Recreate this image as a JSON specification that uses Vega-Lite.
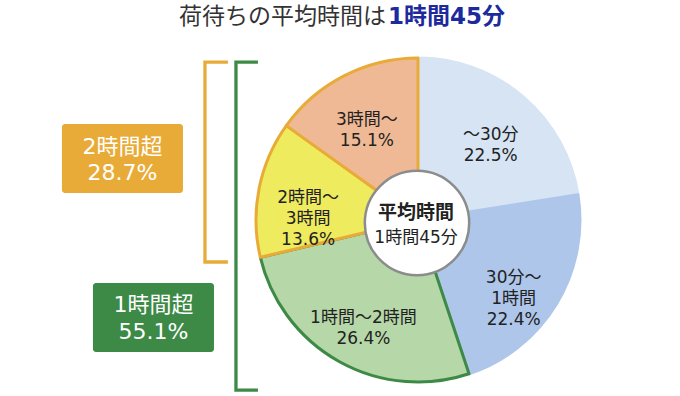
{
  "$schema": "https://vega.github.io/schema/vega-lite/v6.json",
  "width": 328,
  "height": 328,
  "autosize": {"type": "none"},
  "padding": {"left": 254, "top": 56, "right": 98, "bottom": 12},
  "background": "white",
  "config": {"view": {"stroke": null}, "font": "DejaVu Sans, Noto Sans CJK JP"},
  "resolve": {"scale": {"color": "independent", "stroke": "independent"}},
  "datasets": {
    "pie": [
      {"idx": 1, "cat": "～30分", "pct": 22.5, "label": "～30分\n22.5%"},
      {"idx": 2, "cat": "30分～1時間", "pct": 22.4, "label": "30分～\n1時間\n22.4%"},
      {"idx": 3, "cat": "1時間～2時間", "pct": 26.4, "label": "1時間～2時間\n26.4%"},
      {"idx": 4, "cat": "2時間～3時間", "pct": 13.6, "label": "2時間～\n3時間\n13.6%"},
      {"idx": 5, "cat": "3時間～", "pct": 15.1, "label": "3時間～\n15.1%"}
    ],
    "brackets": [
      {"b": "2時間超", "i": 1, "x": -1.159, "y": 0.963},
      {"b": "2時間超", "i": 2, "x": -1.299, "y": 0.963},
      {"b": "2時間超", "i": 3, "x": -1.299, "y": -0.256},
      {"b": "2時間超", "i": 4, "x": -1.159, "y": -0.256},
      {"b": "1時間超", "i": 1, "x": -0.976, "y": 0.963},
      {"b": "1時間超", "i": 2, "x": -1.110, "y": 0.963},
      {"b": "1時間超", "i": 3, "x": -1.110, "y": -1.037},
      {"b": "1時間超", "i": 4, "x": -0.976, "y": -1.037}
    ],
    "boxes": [
      {"b": "2時間超", "x": -2.171, "x2": -1.433, "y": 0.585, "y2": 0.165},
      {"b": "1時間超", "x": -1.982, "x2": -1.244, "y": -0.384, "y2": -0.805}
    ]
  },
  "layer": [
    {
      "data": {"name": "pie"},
      "mark": {"type": "arc", "outerRadius": 162, "strokeWidth": 3, "strokeJoin": "round"},
      "encoding": {
        "theta": {"field": "pct", "type": "quantitative", "stack": true},
        "order": {"field": "idx", "type": "quantitative"},
        "color": {"field": "cat", "type": "nominal", "legend": null,
          "scale": {"domain": ["～30分", "30分～1時間", "1時間～2時間", "2時間～3時間", "3時間～"],
                    "range": ["#d6e4f4", "#aec6ea", "#b6d7a8", "#efeb5e", "#f0b996"]}},
        "stroke": {"field": "cat", "type": "nominal", "legend": null,
          "scale": {"domain": ["～30分", "30分～1時間", "1時間～2時間", "2時間～3時間", "3時間～"],
                    "range": ["#d6e4f4", "#aec6ea", "#3d8a47", "#e9ab38", "#e9ab38"]}}
      }
    },
    {
      "data": {"name": "pie"},
      "mark": {"type": "text", "radius": 112, "lineBreak": "\n", "fontSize": 17, "lineHeight": 21, "color": "#222222", "align": "center", "baseline": "middle"},
      "encoding": {
        "theta": {"field": "pct", "type": "quantitative", "stack": true},
        "order": {"field": "idx", "type": "quantitative"},
        "detail": {"field": "cat", "type": "nominal"},
        "text": {"field": "label", "type": "nominal"}
      }
    },
    {
      "data": {"values": [{"x": -0.006, "y": -0.018}]},
      "mark": {"type": "circle", "size": 10900, "fill": "white", "opacity": 1, "stroke": "#8c8c8c", "strokeWidth": 2.5},
      "encoding": {
        "x": {"field": "x", "type": "quantitative", "axis": null, "scale": {"domain": [-1, 1], "nice": false, "zero": false}},
        "y": {"field": "y", "type": "quantitative", "axis": null, "scale": {"domain": [-1, 1], "nice": false, "zero": false}}
      }
    },
    {
      "data": {"values": [{"t": "平均時間", "x": -0.012, "y": 0.043}]},
      "mark": {"type": "text", "fontSize": 19, "fontWeight": "bold", "color": "#222222", "align": "center", "baseline": "middle"},
      "encoding": {
        "x": {"field": "x", "type": "quantitative"},
        "y": {"field": "y", "type": "quantitative"},
        "text": {"field": "t"}
      }
    },
    {
      "data": {"values": [{"t": "1時間45分", "x": -0.012, "y": -0.107}]},
      "mark": {"type": "text", "fontSize": 17, "color": "#222222", "align": "center", "baseline": "middle"},
      "encoding": {
        "x": {"field": "x", "type": "quantitative"},
        "y": {"field": "y", "type": "quantitative"},
        "text": {"field": "t"}
      }
    },
    {
      "data": {"values": [{"t": "荷待ちの平均時間は", "x": -0.195, "y": 1.238}]},
      "mark": {"type": "text", "fontSize": 23, "color": "#333333", "align": "right", "baseline": "middle"},
      "encoding": {
        "x": {"field": "x", "type": "quantitative"},
        "y": {"field": "y", "type": "quantitative"},
        "text": {"field": "t"}
      }
    },
    {
      "data": {"values": [{"t": "1時間45分", "x": -0.183, "y": 1.238}]},
      "mark": {"type": "text", "fontSize": 23, "fontWeight": "bold", "color": "#1b2a9c", "align": "left", "baseline": "middle"},
      "encoding": {
        "x": {"field": "x", "type": "quantitative"},
        "y": {"field": "y", "type": "quantitative"},
        "text": {"field": "t"}
      }
    },
    {
      "data": {"name": "brackets"},
      "mark": {"type": "line", "strokeWidth": 3.3, "strokeJoin": "miter"},
      "encoding": {
        "x": {"field": "x", "type": "quantitative"},
        "y": {"field": "y", "type": "quantitative"},
        "order": {"field": "i", "type": "quantitative"},
        "color": {"field": "b", "type": "nominal", "legend": null,
          "scale": {"domain": ["2時間超", "1時間超"], "range": ["#e9ab38", "#3d8a47"]}}
      }
    },
    {
      "data": {"name": "boxes"},
      "mark": {"type": "rect", "cornerRadius": 3},
      "encoding": {
        "x": {"field": "x", "type": "quantitative"},
        "x2": {"field": "x2"},
        "y": {"field": "y", "type": "quantitative"},
        "y2": {"field": "y2"},
        "color": {"field": "b", "type": "nominal", "legend": null,
          "scale": {"domain": ["2時間超", "1時間超"], "range": ["#e9ab38", "#3d8a47"]}}
      }
    },
    {
      "data": {"values": [
        {"t": "2時間超", "x": -1.802, "y": 0.445},
        {"t": "28.7%", "x": -1.802, "y": 0.287},
        {"t": "1時間超", "x": -1.613, "y": -0.518},
        {"t": "55.1%", "x": -1.613, "y": -0.683}
      ]},
      "mark": {"type": "text", "fontSize": 22, "color": "white", "align": "center", "baseline": "middle"},
      "encoding": {
        "x": {"field": "x", "type": "quantitative"},
        "y": {"field": "y", "type": "quantitative"},
        "text": {"field": "t"}
      }
    }
  ]
}
